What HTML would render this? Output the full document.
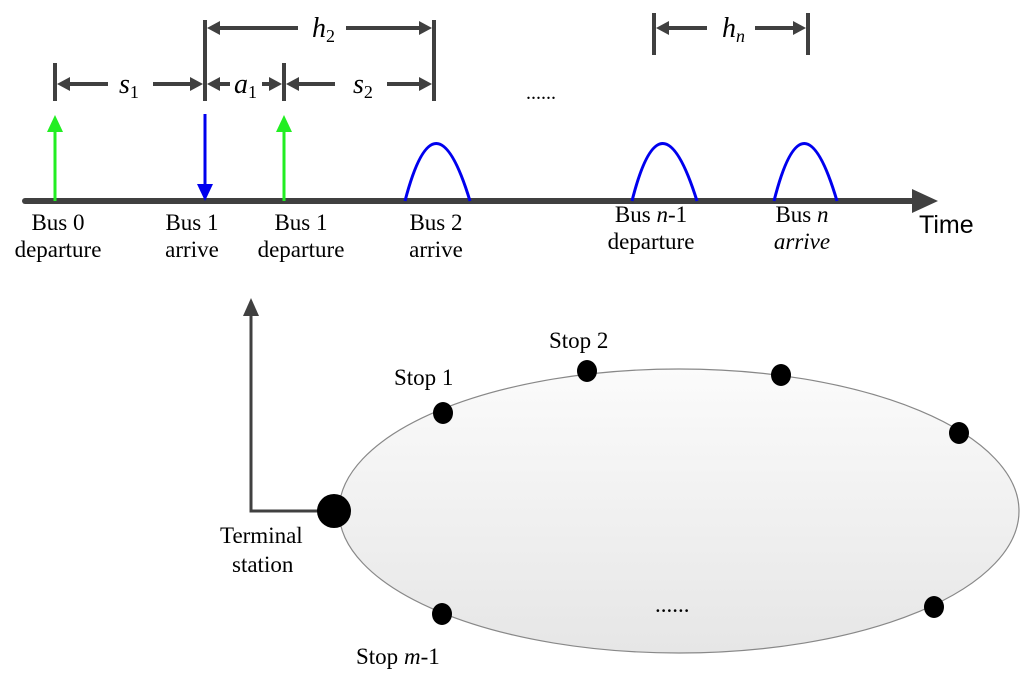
<!DOCTYPE html>
<html><head><meta charset="utf-8"><style>
html,body{margin:0;padding:0;background:#fff;}
svg{display:block;}
text{font-family:"Liberation Serif",serif;font-size:23px;fill:#000;}
text.m{font-size:28px;font-style:italic;}
.d{stroke:#404040;stroke-width:4;fill:none;}
</style></head><body>
<svg width="1024" height="683" viewBox="0 0 1024 683" xmlns="http://www.w3.org/2000/svg">
<defs>
<linearGradient id="g" x1="0" y1="0" x2="0" y2="1"><stop offset="0" stop-color="#fbfbfb"/><stop offset="1" stop-color="#e6e6e6"/></linearGradient>
</defs>
<line x1="25" y1="201" x2="915" y2="201" stroke="#404040" stroke-width="6" stroke-linecap="round"/>
<polygon points="938,201 912,189 912,213" fill="#404040"/>
<text x="919" y="233" style="font-family:'Liberation Sans',sans-serif;font-size:25px">Time</text>
<line x1="55" y1="128" x2="55" y2="201" stroke="#22ee22" stroke-width="3"/>
<polygon points="55,115 47,132 63,132" fill="#22ee22"/>
<line x1="284" y1="128" x2="284" y2="201" stroke="#22ee22" stroke-width="3"/>
<polygon points="284,115 276,132 292,132" fill="#22ee22"/>
<line x1="205" y1="114" x2="205" y2="188" stroke="#0000ee" stroke-width="3"/>
<polygon points="205,201 197,184 213,184" fill="#0000ee"/>
<path d="M405,201 Q435,86 470,201" stroke="#0000ee" stroke-width="3" fill="none"/>
<path d="M632,201 Q661,86 697,201" stroke="#0000ee" stroke-width="3" fill="none"/>
<path d="M774,201 Q803,86 837,201" stroke="#0000ee" stroke-width="3" fill="none"/>
<g class="d">
<line x1="55" y1="63" x2="55" y2="101"/>
<line x1="205" y1="20" x2="205" y2="101"/>
<line x1="284" y1="63" x2="284" y2="101"/>
<line x1="434" y1="20" x2="434" y2="101"/>
<line x1="654" y1="13" x2="654" y2="55"/>
<line x1="808" y1="13" x2="808" y2="55"/>
<line x1="62" y1="84" x2="108" y2="84"/><line x1="153" y1="84" x2="195" y2="84"/>
<line x1="212" y1="84" x2="230" y2="84"/><line x1="262" y1="84" x2="276" y2="84"/>
<line x1="291" y1="84" x2="335" y2="84"/><line x1="387" y1="84" x2="425" y2="84"/>
<line x1="212" y1="28" x2="298" y2="28"/><line x1="346" y1="28" x2="425" y2="28"/>
<line x1="661" y1="28" x2="707" y2="28"/><line x1="755" y1="28" x2="800" y2="28"/>
</g>
<g fill="#404040">
<polygon points="57,84 70,77 70,91"/><polygon points="203,84 190,77 190,91"/>
<polygon points="207,84 220,77 220,91"/><polygon points="282,84 269,77 269,91"/>
<polygon points="286,84 299,77 299,91"/><polygon points="432,84 419,77 419,91"/>
<polygon points="207,28 220,21 220,35"/><polygon points="432,28 419,21 419,35"/>
<polygon points="656,28 669,21 669,35"/><polygon points="806,28 793,21 793,35"/>
</g>
<text class="m" x="119" y="93">s<tspan font-size="18" font-style="normal" dy="5">1</tspan></text>
<text class="m" x="234" y="93">a<tspan font-size="18" font-style="normal" dy="5">1</tspan></text>
<text class="m" x="353" y="93">s<tspan font-size="18" font-style="normal" dy="5">2</tspan></text>
<text class="m" x="312" y="37">h<tspan font-size="18" font-style="normal" dy="5">2</tspan></text>
<text class="m" x="722" y="37">h<tspan font-size="18" dy="5">n</tspan></text>
<text x="526" y="99" style="font-size:20px">......</text>
<g text-anchor="middle">
<text x="58" y="230">Bus 0</text><text x="58" y="257">departure</text>
<text x="192" y="230">Bus 1</text><text x="192" y="257">arrive</text>
<text x="301" y="230">Bus 1</text><text x="301" y="257">departure</text>
<text x="436" y="230">Bus 2</text><text x="436" y="257">arrive</text>
<text x="651" y="222">Bus <tspan font-style="italic">n</tspan>-1</text><text x="651" y="249">departure</text>
<text x="802" y="222">Bus <tspan font-style="italic">n</tspan></text><text x="802" y="249" font-style="italic">arrive</text>
</g>
<ellipse cx="679" cy="511" rx="340" ry="142" fill="url(#g)" stroke="#888" stroke-width="1.2"/>
<polyline points="334,511 251,511 251,310" fill="none" stroke="#404040" stroke-width="3"/>
<polygon points="251,298 243,316 259,316" fill="#404040"/>
<g fill="#000">
<circle cx="334" cy="511" r="17"/>
<ellipse cx="443" cy="413" rx="10" ry="11"/>
<ellipse cx="587" cy="371" rx="10" ry="11"/>
<ellipse cx="781" cy="375" rx="10" ry="11"/>
<ellipse cx="959" cy="433" rx="10" ry="11"/>
<ellipse cx="934" cy="607" rx="10" ry="11"/>
<ellipse cx="442" cy="614" rx="10" ry="11"/>
</g>
<text x="394" y="385">Stop 1</text>
<text x="549" y="348">Stop 2</text>
<text x="220" y="543">Terminal</text>
<text x="232" y="572">station</text>
<text x="356" y="664">Stop <tspan font-style="italic">m</tspan>-1</text>
<text x="655" y="612">......</text>
</svg>
</body></html>
